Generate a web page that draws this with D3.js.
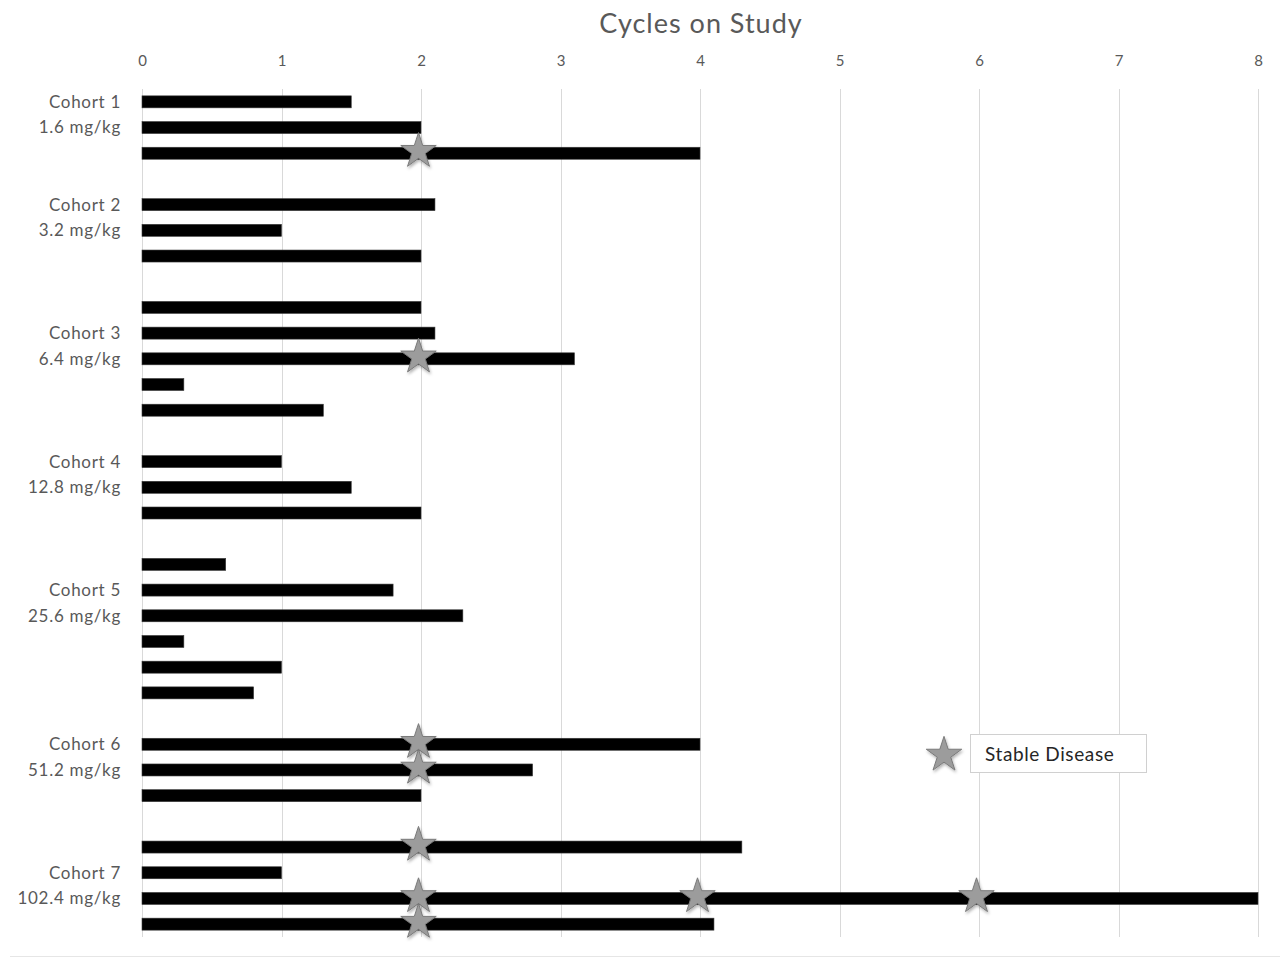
<!DOCTYPE html>
<html>
<head>
<meta charset="utf-8">
<script src="https://cdn.jsdelivr.net/npm/d3@7"></script>
<style>
  html, body { margin: 0; padding: 0; background: #fff; }
  svg { display: block; font-family: Lato, "Open Sans", sans-serif; }
</style>
</head>
<body>
<svg id="chart" width="1280" height="960"></svg>
<script>
// ---- DATA ----
const title = "Cycles on Study";
const xTicks = [0, 1, 2, 3, 4, 5, 6, 7, 8];
const cohortNames = ["Cohort 1", "Cohort 2", "Cohort 3", "Cohort 4", "Cohort 5", "Cohort 6", "Cohort 7"];
const cohortDoses = ["1.6 mg/kg", "3.2 mg/kg", "6.4 mg/kg", "12.8 mg/kg", "25.6 mg/kg", "51.2 mg/kg", "102.4 mg/kg"];
// index of the patient row that carries the cohort name (dose is on the next row)
const labelRowIndex = [0, 0, 1, 0, 1, 0, 1];
const cyclesOnStudy = [
  [1.5, 2.0, 4.0],
  [2.1, 1.0, 2.0],
  [2.0, 2.1, 3.1, 0.3, 1.3],
  [1.0, 1.5, 2.0],
  [0.6, 1.8, 2.3, 0.3, 1.0, 0.8],
  [4.0, 2.8, 2.0],
  [4.3, 1.0, 8.0, 4.1]
];
// Stable disease assessments (cycle positions) per patient
const stableDisease = [
  [[], [], [2]],
  [[], [], []],
  [[], [], [2], [], []],
  [[], [], []],
  [[], [], [], [], [], []],
  [[2], [2], []],
  [[2], [], [2, 4, 6], [2]]
];
const legendLabel = "Stable Disease";

// ---- BUILD ROWS ----
const rows = [];
cyclesOnStudy.forEach((arr, c) => {
  if (c > 0) rows.push({ key: "gap" + c, gap: true });
  arr.forEach((v, i) => rows.push({ key: "c" + c + "p" + i, cohort: c, idx: i, value: v, sd: stableDisease[c][i] }));
});

const svg = d3.select("#chart");
const W = 1280, H = 960;
const plotLeft = 142, plotRight = 1258, plotTop = 89, plotBottom = 937;

const x = d3.scaleLinear().domain([0, 8]).range([plotLeft, plotRight]);
const y = d3.scalePoint().domain(rows.map(r => r.key)).range([plotTop, plotBottom]).padding(0.5);

// shadow filter
const defs = svg.append("defs");
const f = defs.append("filter").attr("id", "shadow").attr("x", "-50%").attr("y", "-50%").attr("width", "200%").attr("height", "200%");
f.append("feDropShadow").attr("dx", 1).attr("dy", 2).attr("stdDeviation", 1.8).attr("flood-color", "#000").attr("flood-opacity", 0.3);

// bottom border of chart area
svg.append("line").attr("x1", 10).attr("x2", W).attr("y1", 956.5).attr("y2", 956.5)
  .attr("stroke", "#e6e6e6").attr("stroke-width", 1);

// title
svg.append("text").attr("x", 701).attr("y", 33).attr("text-anchor", "middle")
  .attr("font-size", 27).attr("letter-spacing", 1).attr("fill", "#595959").text(title);

// gridlines
svg.append("g").selectAll("line").data(xTicks).join("line")
  .attr("x1", d => Math.round(x(d)) + 0.5).attr("x2", d => Math.round(x(d)) + 0.5)
  .attr("y1", plotTop).attr("y2", plotBottom)
  .attr("stroke", "#d9d9d9").attr("stroke-width", 1);

// top axis
const axis = d3.axisTop(x).tickValues(xTicks).tickSize(0).tickPadding(0).tickFormat(d3.format("d"));
const gAxis = svg.append("g").attr("transform", `translate(0,66)`).call(axis);
gAxis.select(".domain").remove();
gAxis.selectAll("text").attr("font-size", 15).attr("fill", "#595959").attr("font-family", "Lato, 'Open Sans', sans-serif");

// bars
const barH = 12;
svg.append("g").selectAll("rect").data(rows.filter(r => !r.gap)).join("rect")
  .attr("x", x(0))
  .attr("y", d => y(d.key) - barH / 2)
  .attr("width", d => x(d.value) - x(0))
  .attr("height", barH)
  .attr("fill", "#000")
  .attr("stroke", "#3a3a3a").attr("stroke-width", 0.6);

// stars
const starPath = d3.symbol().type(d3.symbolStar).size(390)();
const stars = [];
rows.filter(r => !r.gap).forEach(r => r.sd.forEach(v => stars.push({ key: r.key, v })));
svg.append("g").selectAll("path").data(stars).join("path")
  .attr("d", starPath)
  .attr("transform", d => `translate(${x(d.v) - 2.5},${y(d.key) - 2})`)
  .attr("fill", "#9c9c9c").attr("stroke", "#7a7a7a").attr("stroke-width", 1)
  .attr("filter", "url(#shadow)");

// y labels
const labels = [];
rows.filter(r => !r.gap).forEach(r => {
  const li = labelRowIndex[r.cohort];
  if (r.idx === li) labels.push({ key: r.key, text: cohortNames[r.cohort] });
  if (r.idx === li + 1) labels.push({ key: r.key, text: cohortDoses[r.cohort] });
});
svg.append("g").selectAll("text").data(labels).join("text")
  .attr("x", 121).attr("y", d => y(d.key)).attr("dy", "0.35em")
  .attr("text-anchor", "end").attr("font-size", 17).attr("letter-spacing", 0.7).attr("fill", "#595959")
  .text(d => d.text);

// legend
const lg = svg.append("g");
lg.append("path").attr("d", starPath).attr("transform", "translate(944,755)")
  .attr("fill", "#9c9c9c").attr("stroke", "#7a7a7a").attr("stroke-width", 1)
  .attr("filter", "url(#shadow)");
lg.append("rect").attr("x", 970.5).attr("y", 734.5).attr("width", 176).attr("height", 38)
  .attr("fill", "#fff").attr("stroke", "#d0d0d0").attr("stroke-width", 1);
lg.append("text").attr("x", 985).attr("y", 754).attr("dy", "0.35em")
  .attr("font-size", 19).attr("letter-spacing", 0.6).attr("fill", "#262626").text(legendLabel);
</script>
</body>
</html>
